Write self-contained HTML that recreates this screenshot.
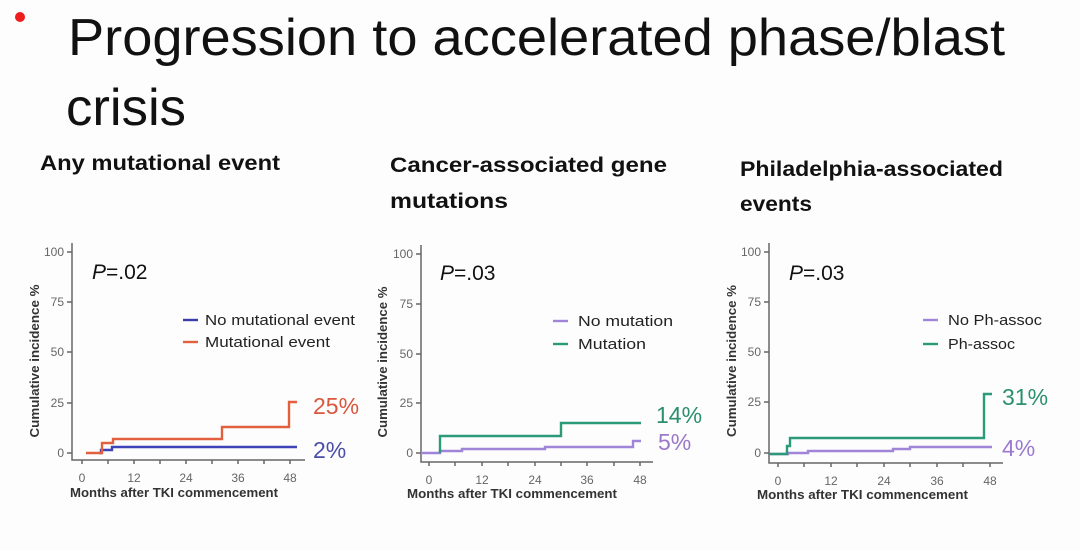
<!DOCTYPE html>
<html>
<head>
<meta charset="utf-8">
<style>
  html,body{margin:0;padding:0;background:#fff;}
  svg{display:block;}
  text{font-family:"Liberation Sans",sans-serif;}
</style>
</head>
<body>
<svg width="1080" height="550" viewBox="0 0 1080 550" xmlns="http://www.w3.org/2000/svg">
  <rect width="1080" height="550" fill="#fdfdfd"/>
  <!-- bullet -->
  <circle cx="20" cy="17" r="5" fill="#ee1c1c"/>
  <!-- title -->
  <text x="68" y="55" font-size="52" fill="#111" textLength="937" lengthAdjust="spacingAndGlyphs">Progression to accelerated phase/blast</text>
  <text x="66" y="125" font-size="52" fill="#111" textLength="120" lengthAdjust="spacingAndGlyphs">crisis</text>

  <!-- subtitles -->
  <g font-weight="bold" fill="#111" font-size="21">
    <text x="40" y="170" textLength="240" lengthAdjust="spacingAndGlyphs">Any mutational event</text>
    <text x="390" y="172" textLength="277" lengthAdjust="spacingAndGlyphs">Cancer-associated gene</text>
    <text x="390" y="208" textLength="118" lengthAdjust="spacingAndGlyphs">mutations</text>
    <text x="740" y="176" textLength="263" lengthAdjust="spacingAndGlyphs">Philadelphia-associated</text>
    <text x="740" y="211" textLength="72" lengthAdjust="spacingAndGlyphs">events</text>
  </g>

  <!-- ============ CHART 1 ============ -->
  <g stroke="#666" stroke-width="1.5" fill="none">
    <path d="M72,243 V460 H305"/>
    <path d="M67,252 H72 M67,302 H72 M67,352 H72 M67,403 H72 M67,453 H72"/>
    <path d="M82,460 V464 M108,460 V464 M134,460 V464 M160,460 V464 M186,460 V464 M212,460 V464 M238,460 V464 M264,460 V464 M290,460 V464"/>
  </g>
  <g font-size="12" fill="#666" text-anchor="end">
    <text x="64" y="256">100</text>
    <text x="64" y="306">75</text>
    <text x="64" y="356">50</text>
    <text x="64" y="407">25</text>
    <text x="64" y="457">0</text>
  </g>
  <g font-size="12" fill="#666" text-anchor="middle">
    <text x="82" y="482">0</text>
    <text x="134" y="482">12</text>
    <text x="186" y="482">24</text>
    <text x="238" y="482">36</text>
    <text x="290" y="482">48</text>
  </g>
  <text x="70" y="497" font-size="12.5" font-weight="bold" fill="#333" textLength="208" lengthAdjust="spacingAndGlyphs">Months after TKI commencement</text>
  <text transform="translate(35,361) rotate(-90)" text-anchor="middle" dominant-baseline="central" font-size="12.5" font-weight="bold" fill="#333" textLength="153" lengthAdjust="spacingAndGlyphs">Cumulative incidence %</text>
  <text x="92" y="279" font-size="21" fill="#111"><tspan font-style="italic">P</tspan>=.02</text>
  <path d="M183,320 H198" stroke="#3a3ca8" stroke-width="2.4"/>
  <path d="M183,342 H198" stroke="#e2603e" stroke-width="2.4"/>
  <text x="205" y="325" font-size="15" fill="#222" textLength="150" lengthAdjust="spacingAndGlyphs">No mutational event</text>
  <text x="205" y="347" font-size="15" fill="#222" textLength="125" lengthAdjust="spacingAndGlyphs">Mutational event</text>
  <path d="M99,453 H101 V450 H112 V447 H297" stroke="#3e44b8" stroke-width="2.4" fill="none"/>
  <path d="M86,453 H102 V443 H113 V439 H222 V427 H289 V402 H297" stroke="#e2603e" stroke-width="2.4" fill="none"/>
  <text x="313" y="414" font-size="23" fill="#d9573c">25%</text>
  <text x="313" y="458" font-size="23" fill="#4a4ea8">2%</text>

  <!-- ============ CHART 2 ============ -->
  <g stroke="#666" stroke-width="1.5" fill="none">
    <path d="M421,245 V462 H653"/>
    <path d="M416,254 H421 M416,304 H421 M416,354 H421 M416,403 H421 M416,453 H421"/>
    <path d="M429,462 V466 M455,462 V466 M482,462 V466 M508,462 V466 M535,462 V466 M561,462 V466 M587,462 V466 M614,462 V466 M640,462 V466"/>
  </g>
  <g font-size="12" fill="#666" text-anchor="end">
    <text x="413" y="258">100</text>
    <text x="413" y="308">75</text>
    <text x="413" y="358">50</text>
    <text x="413" y="407">25</text>
    <text x="413" y="457">0</text>
  </g>
  <g font-size="12" fill="#666" text-anchor="middle">
    <text x="429" y="484">0</text>
    <text x="482" y="484">12</text>
    <text x="535" y="484">24</text>
    <text x="587" y="484">36</text>
    <text x="640" y="484">48</text>
  </g>
  <text x="407" y="498" font-size="12.5" font-weight="bold" fill="#333" textLength="210" lengthAdjust="spacingAndGlyphs">Months after TKI commencement</text>
  <text transform="translate(383,362) rotate(-90)" text-anchor="middle" dominant-baseline="central" font-size="12.5" font-weight="bold" fill="#333" textLength="151" lengthAdjust="spacingAndGlyphs">Cumulative incidence %</text>
  <text x="440" y="280" font-size="21" fill="#111"><tspan font-style="italic">P</tspan>=.03</text>
  <path d="M553,321 H568" stroke="#a084d8" stroke-width="2.4"/>
  <path d="M553,344 H568" stroke="#2a9a78" stroke-width="2.4"/>
  <text x="578" y="326" font-size="15" fill="#222" textLength="95" lengthAdjust="spacingAndGlyphs">No mutation</text>
  <text x="578" y="349" font-size="15" fill="#222" textLength="68" lengthAdjust="spacingAndGlyphs">Mutation</text>
  <path d="M421,453 H440 V451 H462 V449 H545 V447 H633 V441 H641" stroke="#a084d8" stroke-width="2.4" fill="none"/>
  <path d="M440,453 V436 H561 V423 H641" stroke="#2a9a78" stroke-width="2.4" fill="none"/>
  <text x="656" y="423" font-size="23" fill="#2a8f6e">14%</text>
  <text x="658" y="450" font-size="23" fill="#9b79c8">5%</text>

  <!-- ============ CHART 3 ============ -->
  <g stroke="#666" stroke-width="1.5" fill="none">
    <path d="M769,243 V463 H1003"/>
    <path d="M764,252 H769 M764,302 H769 M764,352 H769 M764,402 H769 M764,453 H769"/>
    <path d="M778,463 V467 M804,463 V467 M831,463 V467 M857,463 V467 M884,463 V467 M910,463 V467 M937,463 V467 M963,463 V467 M990,463 V467"/>
  </g>
  <g font-size="12" fill="#666" text-anchor="end">
    <text x="761" y="256">100</text>
    <text x="761" y="306">75</text>
    <text x="761" y="356">50</text>
    <text x="761" y="406">25</text>
    <text x="761" y="457">0</text>
  </g>
  <g font-size="12" fill="#666" text-anchor="middle">
    <text x="778" y="485">0</text>
    <text x="831" y="485">12</text>
    <text x="884" y="485">24</text>
    <text x="937" y="485">36</text>
    <text x="990" y="485">48</text>
  </g>
  <text x="757" y="499" font-size="12.5" font-weight="bold" fill="#333" textLength="211" lengthAdjust="spacingAndGlyphs">Months after TKI commencement</text>
  <text transform="translate(732,361) rotate(-90)" text-anchor="middle" dominant-baseline="central" font-size="12.5" font-weight="bold" fill="#333" textLength="152" lengthAdjust="spacingAndGlyphs">Cumulative incidence %</text>
  <text x="789" y="280" font-size="21" fill="#111"><tspan font-style="italic">P</tspan>=.03</text>
  <path d="M923,320 H938" stroke="#a084d8" stroke-width="2.4"/>
  <path d="M923,344 H938" stroke="#2a9a78" stroke-width="2.4"/>
  <text x="948" y="325" font-size="15" fill="#222" textLength="94" lengthAdjust="spacingAndGlyphs">No Ph-assoc</text>
  <text x="948" y="349" font-size="15" fill="#222" textLength="67" lengthAdjust="spacingAndGlyphs">Ph-assoc</text>
  <path d="M769,454 H788 V453 H808 V451 H893 V449 H910 V447 H992" stroke="#a084d8" stroke-width="2.4" fill="none"/>
  <path d="M769,454 H787 V446 H790 V438 H984 V394 H992" stroke="#2a9a78" stroke-width="2.4" fill="none"/>
  <text x="1002" y="405" font-size="23" fill="#2a9070">31%</text>
  <text x="1002" y="456" font-size="23" fill="#9a7ad0">4%</text>
</svg>
</body>
</html>
